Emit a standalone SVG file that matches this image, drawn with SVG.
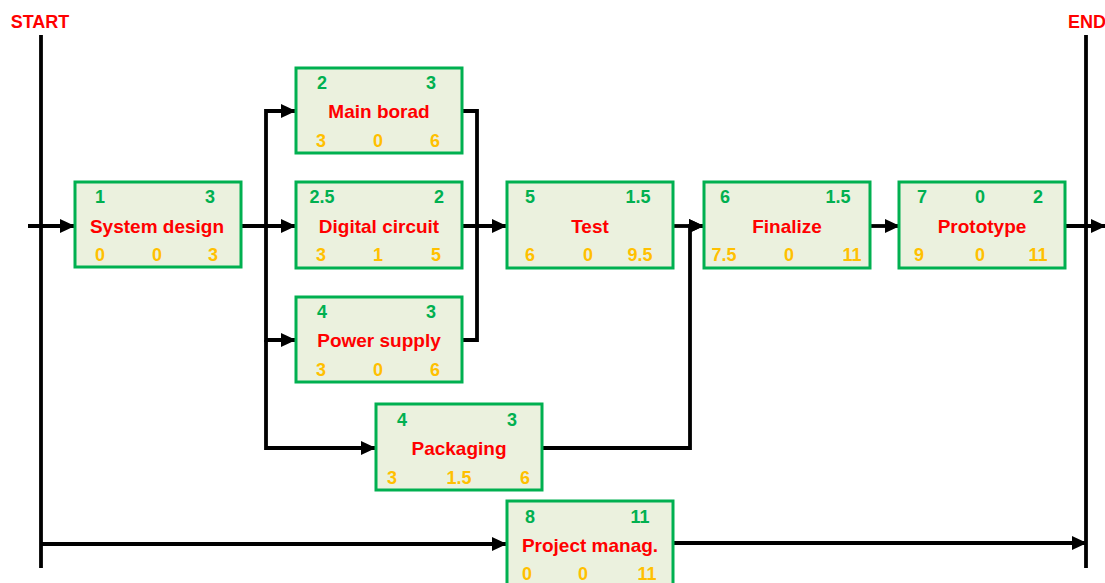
<svg xmlns="http://www.w3.org/2000/svg" width="1105" height="583" viewBox="0 0 1105 583">
<style>
.box{fill:#EBF1DE;stroke:#00B050;stroke-width:3}
.t{font-family:"Liberation Sans",Arial,sans-serif;font-weight:bold;text-anchor:middle}
.title{font-size:19px;fill:#FF0000}
.g{font-size:18px;fill:#00B050}
.o{font-size:18px;fill:#FFC000}
.lbl{font-size:18px;fill:#FF0000}
.c{fill:none;stroke:#000;stroke-width:3.8;stroke-linejoin:miter}
.a{marker-end:url(#ah)}
</style>
<defs>
<marker id="ah" viewBox="0 0 15 14" refX="14" refY="7" markerWidth="15" markerHeight="14" markerUnits="userSpaceOnUse" orient="auto">
<path d="M0,0 L15,7 L0,14 z" fill="#000"/>
</marker>
</defs>
<rect width="1105" height="583" fill="#fff"/>
<g id="start">
<text class="t lbl" x="40" y="28">START</text>
<line x1="41" y1="35" x2="41" y2="568" stroke="#000" stroke-width="3.8"/>
</g>
<g id="end">
<text class="t lbl" x="1087" y="28">END</text>
<line x1="1086" y1="35" x2="1086" y2="568" stroke="#000" stroke-width="3.8"/>
</g>
<g id="connectors">
<path class="c a" d="M28,226 H74"/>
<path class="c a" d="M241,226 H295"/>
<path class="c a" d="M266,226 V111 H295"/>
<path class="c a" d="M266,226 V340 H295"/>
<path class="c a" d="M266,340 V448 H375"/>
<path class="c" d="M462,111 H477 V340 H462"/>
<path class="c a" d="M462,226 H506"/>
<path class="c a" d="M673,226 H703"/>
<path class="c a" d="M542,448 H690 V226 H703"/>
<path class="c a" d="M870,226 H899"/>
<path class="c a" d="M1065,226 H1105"/>
<path class="c a" d="M41,544 H506"/>
<path class="c a" d="M673,543 H1086"/>
</g>
<g id="system-design">
<rect class="box" x="75" y="182" width="166" height="85"/>
<text class="t g" x="100" y="203">1</text><text class="t g" x="210" y="203">3</text>
<text class="t title" x="157" y="233">System design</text>
<text class="t o" x="100" y="261">0</text><text class="t o" x="157" y="261">0</text><text class="t o" x="213" y="261">3</text>
</g>
<g id="main-borad">
<rect class="box" x="296" y="68" width="166" height="85"/>
<text class="t g" x="322" y="89">2</text><text class="t g" x="431" y="89">3</text>
<text class="t title" x="379" y="118">Main borad</text>
<text class="t o" x="321" y="147">3</text><text class="t o" x="378" y="147">0</text><text class="t o" x="435" y="147">6</text>
</g>
<g id="digital-circuit">
<rect class="box" x="296" y="182" width="166" height="86"/>
<text class="t g" x="322" y="203">2.5</text><text class="t g" x="439" y="203">2</text>
<text class="t title" x="379" y="233">Digital circuit</text>
<text class="t o" x="321" y="261">3</text><text class="t o" x="378" y="261">1</text><text class="t o" x="436" y="261">5</text>
</g>
<g id="power-supply">
<rect class="box" x="296" y="297" width="166" height="85"/>
<text class="t g" x="322" y="318">4</text><text class="t g" x="431" y="318">3</text>
<text class="t title" x="379" y="347">Power supply</text>
<text class="t o" x="321" y="376">3</text><text class="t o" x="378" y="376">0</text><text class="t o" x="435" y="376">6</text>
</g>
<g id="test">
<rect class="box" x="507" y="182" width="166" height="86"/>
<text class="t g" x="530" y="203">5</text><text class="t g" x="638" y="203">1.5</text>
<text class="t title" x="590" y="233">Test</text>
<text class="t o" x="530" y="261">6</text><text class="t o" x="588" y="261">0</text><text class="t o" x="640" y="261">9.5</text>
</g>
<g id="finalize">
<rect class="box" x="704" y="182" width="166" height="86"/>
<text class="t g" x="725" y="203">6</text><text class="t g" x="838" y="203">1.5</text>
<text class="t title" x="787" y="233">Finalize</text>
<text class="t o" x="724" y="261">7.5</text><text class="t o" x="789" y="261">0</text><text class="t o" x="852" y="261">11</text>
</g>
<g id="prototype">
<rect class="box" x="899" y="182" width="166" height="86"/>
<text class="t g" x="922" y="203">7</text><text class="t g" x="980" y="203">0</text><text class="t g" x="1038" y="203">2</text>
<text class="t title" x="982" y="233">Prototype</text>
<text class="t o" x="919" y="261">9</text><text class="t o" x="980" y="261">0</text><text class="t o" x="1038" y="261">11</text>
</g>
<g id="packaging">
<rect class="box" x="376" y="404" width="166" height="86"/>
<text class="t g" x="402" y="426">4</text><text class="t g" x="512" y="426">3</text>
<text class="t title" x="459" y="455">Packaging</text>
<text class="t o" x="392" y="484">3</text><text class="t o" x="459" y="484">1.5</text><text class="t o" x="525" y="484">6</text>
</g>
<g id="project-manag">
<rect class="box" x="507" y="501" width="166" height="90"/>
<text class="t g" x="530" y="523">8</text><text class="t g" x="640" y="523">11</text>
<text class="t title" x="590" y="552">Project manag.</text>
<text class="t o" x="527" y="580">0</text><text class="t o" x="583" y="580">0</text><text class="t o" x="647" y="580">11</text>
</g>
</svg>
